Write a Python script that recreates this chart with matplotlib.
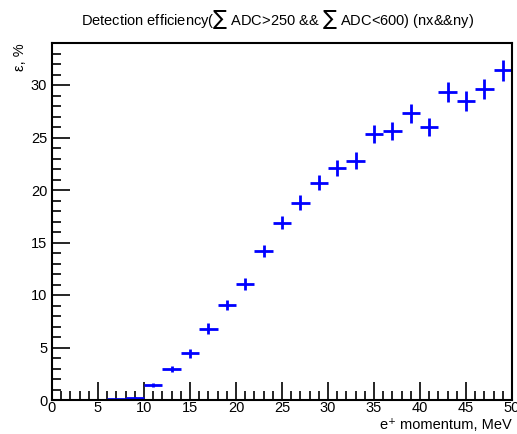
import matplotlib
matplotlib.use("Agg")
import matplotlib.pyplot as plt
from matplotlib.ticker import MultipleLocator

plt.rcParams['font.family'] = ['Liberation Sans', 'DejaVu Sans']
plt.rcParams['mathtext.fontset'] = 'dejavusans'

momentum = [7, 9, 11, 13, 15, 17, 19, 21, 23, 25, 27, 29, 31, 33, 35, 37, 39, 41, 43, 45, 47, 49]
efficiency = [0.07, 0.2, 1.45, 2.95, 4.43, 6.8, 9.05, 11.05, 14.2, 16.9, 18.8, 20.7,
              22.1, 22.8, 25.3, 25.6, 27.3, 26.0, 29.3, 28.5, 29.6, 31.4]
eff_err = [0.03, 0.08, 0.17, 0.3, 0.43, 0.5, 0.52, 0.55, 0.55, 0.66, 0.68, 0.74,
           0.8, 0.8, 0.85, 0.85, 0.9, 0.9, 0.95, 0.95, 0.95, 1.0]
bin_half = [1.0] * len(momentum)

fig = plt.figure(figsize=(5.17, 4.34), dpi=100)
ax = fig.add_axes([52/517, 34/434, 460/517, 357/434])

ax.errorbar(momentum, efficiency, yerr=eff_err, xerr=bin_half, fmt='none',
            ecolor='#0000ff', elinewidth=2.0, capsize=0)

ax.set_xlim(0, 50)
ax.set_ylim(0, 34)
ax.xaxis.set_major_locator(MultipleLocator(5))
ax.xaxis.set_minor_locator(MultipleLocator(1))
ax.yaxis.set_major_locator(MultipleLocator(5))
ax.yaxis.set_minor_locator(MultipleLocator(1))
ax.tick_params(which='both', direction='in', top=False, right=False, labelsize=10.5, width=1.2)
ax.tick_params(which='major', length=13)
ax.tick_params(which='minor', length=6.5)
ax.tick_params(axis='x', pad=1)
for s in ax.spines.values():
    s.set_linewidth(1.5)

fig.text(512/517, 1 - 432/434, 'e⁺ momentum, MeV', ha='right', va='bottom', fontsize=10.5)
fig.text(20/517, 1 - 43/434, 'ε, %', ha='center', va='top', rotation=90, fontsize=10.5)

fig.text(0.537, 0.955, r'Detection efficiency($\sum$ ADC>250 && $\sum$ ADC<600) (nx&&ny)',
         ha='center', va='center', fontsize=10.5)

fig.savefig('out.png', dpi=100)
